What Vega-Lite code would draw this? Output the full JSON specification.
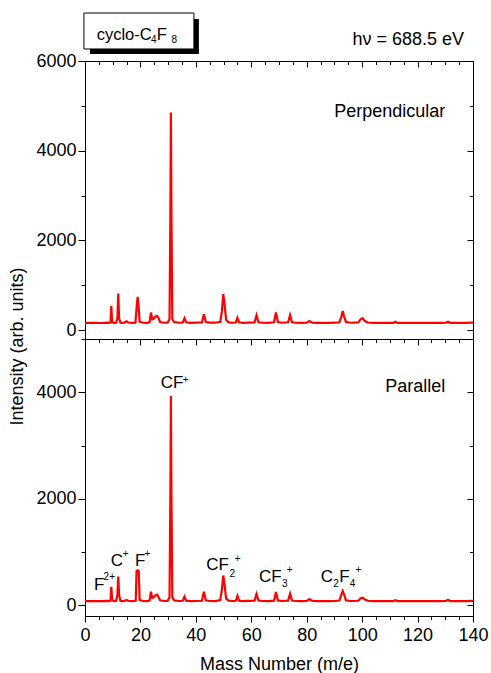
{
  "$schema": "https://vega.github.io/schema/vega-lite/v6.json",
  "padding": {"left": 7, "top": 12, "right": 17, "bottom": 2},
  "datasets": {
    "perp": [
      {"m":0,"v":160},{"m":2,"v":158},{"m":4,"v":162},{"m":6,"v":157},{"m":8,"v":163},{"m":8.9,"v":158},{"m":9.2,"v":175},{"m":9.5,"v":540},{"m":9.8,"v":175},{"m":10.4,"v":160},{"m":11.2,"v":162},{"m":11.7,"v":260},{"m":12.0,"v":815},{"m":12.3,"v":260},{"m":12.8,"v":163},{"m":14,"v":160},{"m":15,"v":195},{"m":15.6,"v":168},{"m":17,"v":160},{"m":18.2,"v":165},{"m":18.7,"v":560},{"m":19.0,"v":740},{"m":19.3,"v":560},{"m":19.7,"v":185},{"m":21,"v":162},{"m":22.5,"v":160},{"m":23.3,"v":170},{"m":23.8,"v":390},{"m":24.3,"v":240},{"m":24.8,"v":250},{"m":25.4,"v":300},{"m":26.0,"v":315},{"m":26.5,"v":270},{"m":27.1,"v":180},{"m":28.5,"v":162},{"m":29.8,"v":165},{"m":30.5,"v":240},{"m":30.8,"v":2500},{"m":31.0,"v":4850},{"m":31.2,"v":2500},{"m":31.5,"v":240},{"m":32.2,"v":175},{"m":34,"v":162},{"m":35.3,"v":168},{"m":35.9,"v":265},{"m":36.5,"v":172},{"m":38,"v":160},{"m":40,"v":163},{"m":42.2,"v":168},{"m":42.9,"v":350},{"m":43.6,"v":180},{"m":45,"v":165},{"m":47,"v":163},{"m":48.8,"v":185},{"m":49.4,"v":420},{"m":49.9,"v":800},{"m":50.4,"v":560},{"m":50.9,"v":230},{"m":51.8,"v":172},{"m":53.5,"v":163},{"m":54.4,"v":168},{"m":55.0,"v":275},{"m":55.6,"v":172},{"m":57,"v":160},{"m":59,"v":164},{"m":61.2,"v":170},{"m":61.9,"v":330},{"m":62.6,"v":172},{"m":64,"v":162},{"m":66,"v":160},{"m":68.2,"v":172},{"m":68.9,"v":390},{"m":69.6,"v":178},{"m":71,"v":163},{"m":73.3,"v":172},{"m":74.0,"v":330},{"m":74.7,"v":172},{"m":76,"v":162},{"m":78,"v":160},{"m":80,"v":165},{"m":81,"v":200},{"m":82,"v":166},{"m":84,"v":160},{"m":86,"v":162},{"m":88,"v":158},{"m":90,"v":163},{"m":91.8,"v":172},{"m":92.5,"v":300},{"m":93.0,"v":425},{"m":93.5,"v":300},{"m":94.2,"v":175},{"m":96,"v":163},{"m":98.6,"v":170},{"m":99.5,"v":245},{"m":100.2,"v":262},{"m":101.0,"v":200},{"m":102,"v":168},{"m":104,"v":160},{"m":106,"v":162},{"m":108,"v":158},{"m":110,"v":162},{"m":111.2,"v":160},{"m":112,"v":186},{"m":112.8,"v":160},{"m":115,"v":158},{"m":118,"v":162},{"m":120,"v":160},{"m":122,"v":158},{"m":125,"v":162},{"m":128,"v":160},{"m":130.2,"v":162},{"m":131,"v":185},{"m":131.8,"v":160},{"m":134,"v":162},{"m":137,"v":160},{"m":140,"v":163}
    ],
    "para": [
      {"m":0,"v":80},{"m":2,"v":78},{"m":4,"v":82},{"m":6,"v":78},{"m":8,"v":83},{"m":8.9,"v":80},{"m":9.2,"v":95},{"m":9.5,"v":350},{"m":9.8,"v":95},{"m":10.4,"v":80},{"m":11.2,"v":82},{"m":11.7,"v":200},{"m":12.0,"v":540},{"m":12.3,"v":200},{"m":12.8,"v":84},{"m":14,"v":80},{"m":15,"v":100},{"m":15.6,"v":86},{"m":17,"v":80},{"m":18.3,"v":85},{"m":18.6,"v":640},{"m":19.0,"v":660},{"m":19.4,"v":640},{"m":19.7,"v":100},{"m":21,"v":82},{"m":22.5,"v":80},{"m":23.3,"v":88},{"m":23.8,"v":257},{"m":24.3,"v":140},{"m":24.8,"v":150},{"m":25.4,"v":185},{"m":26.0,"v":200},{"m":26.5,"v":160},{"m":27.1,"v":95},{"m":28.5,"v":82},{"m":29.8,"v":85},{"m":30.5,"v":150},{"m":30.8,"v":2000},{"m":31.0,"v":3930},{"m":31.2,"v":2000},{"m":31.5,"v":150},{"m":32.2,"v":92},{"m":34,"v":82},{"m":35.3,"v":86},{"m":35.9,"v":163},{"m":36.5,"v":88},{"m":38,"v":80},{"m":40,"v":82},{"m":42.2,"v":86},{"m":42.9,"v":257},{"m":43.6,"v":95},{"m":45,"v":82},{"m":47,"v":80},{"m":48.8,"v":100},{"m":49.4,"v":300},{"m":49.9,"v":560},{"m":50.4,"v":380},{"m":50.9,"v":130},{"m":51.8,"v":88},{"m":53.5,"v":82},{"m":54.4,"v":86},{"m":55.0,"v":181},{"m":55.6,"v":88},{"m":57,"v":80},{"m":59,"v":83},{"m":61.2,"v":88},{"m":61.9,"v":212},{"m":62.6,"v":90},{"m":64,"v":82},{"m":66,"v":80},{"m":68.2,"v":88},{"m":68.9,"v":250},{"m":69.6,"v":92},{"m":71,"v":82},{"m":73.3,"v":88},{"m":74.0,"v":219},{"m":74.7,"v":90},{"m":76,"v":82},{"m":78,"v":80},{"m":80,"v":84},{"m":81,"v":119},{"m":82,"v":84},{"m":84,"v":80},{"m":86,"v":82},{"m":88,"v":78},{"m":90,"v":82},{"m":91.8,"v":90},{"m":92.5,"v":200},{"m":93.0,"v":269},{"m":93.5,"v":200},{"m":94.2,"v":92},{"m":96,"v":82},{"m":98.6,"v":86},{"m":99.5,"v":135},{"m":100.2,"v":144},{"m":101.0,"v":110},{"m":102,"v":86},{"m":104,"v":80},{"m":106,"v":82},{"m":108,"v":78},{"m":110,"v":82},{"m":111.2,"v":80},{"m":112,"v":95},{"m":112.8,"v":80},{"m":115,"v":78},{"m":118,"v":82},{"m":120,"v":80},{"m":122,"v":78},{"m":125,"v":82},{"m":128,"v":80},{"m":130.2,"v":82},{"m":131,"v":106},{"m":131.8,"v":80},{"m":134,"v":82},{"m":137,"v":80},{"m":140,"v":83}
    ],
    "ionParts": [
      {"m":3.25,"v":288,"t":"F","k":"b"},{"m":6.7,"v":470,"t":"2+","k":"s"},
      {"m":9.27,"v":744,"t":"C","k":"b"},{"m":13.6,"v":908,"t":"+","k":"s"},
      {"m":18.04,"v":744,"t":"F","k":"b"},{"m":21.5,"v":908,"t":"+","k":"s"},
      {"m":27.32,"v":4086,"t":"CF","k":"b"},{"m":35.3,"v":4174,"t":"+","k":"s"},
      {"m":43.78,"v":664,"t":"CF","k":"b"},{"m":52.1,"v":538,"t":"2","k":"s"},{"m":54.0,"v":823,"t":"+","k":"s"},
      {"m":62.79,"v":444,"t":"CF","k":"b"},{"m":71.1,"v":339,"t":"3","k":"s"},{"m":72.8,"v":607,"t":"+","k":"s"},
      {"m":85.06,"v":444,"t":"C","k":"b"},{"m":89.6,"v":339,"t":"2","k":"s"},{"m":91.7,"v":444,"t":"F","k":"b"},{"m":95.5,"v":339,"t":"4","k":"s"},{"m":97.6,"v":607,"t":"+","k":"s"}
    ],
    "topText": [
      {"m":130,"v":4754,"t":"Perpendicular"},{"m":136.8,"v":6357,"t":"hν = 688.5 eV"}
    ],
    "botText": [
      {"m":130,"v":4000,"t":"Parallel"}
    ],
    "shadow": [{"x1":1.8,"x2":41.1,"y1":6156,"y2":6937}],
    "box": [{"x1":-0.4,"x2":39.3,"y1":6268,"y2":7070}],
    "boxParts": [
      {"m":4.2,"v":6468,"t":"cyclo-C","k":"b"},{"m":23.8,"v":6395,"t":"4","k":"s"},{"m":25.9,"v":6468,"t":"F","k":"b"},{"m":31.2,"v":6395,"t":"8","k":"s"}
    ]
  },
  "vconcat": [
    {
      "width": 388,
      "height": 278,
      "resolve": {"axis": {"x": "independent", "y": "independent"}},
      "layer": [
        {
          "data": {"name": "perp"},
          "mark": {"type": "line", "color": "#ff0000", "strokeWidth": 2.2},
          "encoding": {
            "x": {"field": "m", "type": "quantitative", "scale": {"domain": [0, 140], "nice": false}, "axis": null},
            "y": {"field": "v", "type": "quantitative", "scale": {"domain": [-200, 6000], "nice": false, "zero": false},
              "axis": {"orient": "left", "values": [0,1000,2000,3000,4000,5000,6000],
                "labelExpr": "datum.value % 2000 === 0 ? datum.label : ''",
                "tickSize": {"condition": {"test": "datum.value % 2000 === 0", "value": 7}, "value": 4},
                "labelPadding": 2, "format": "d",
                "title": "Intensity (arb. units)", "titleX": -68, "titleY": 285, "titleAngle": -90,
                "titleAlign": "center", "titleBaseline": "middle", "titleAnchor": null}}
          }
        },
        {
          "data": {"name": "topText"},
          "mark": {"type": "text", "align": "right", "baseline": "alphabetic"},
          "encoding": {
            "x": {"field": "m", "type": "quantitative", "scale": {"domain": [0, 140], "nice": false},
              "axis": {"orient": "top", "values": [0,5,10,15,20,25,30,35,40,45,50,55,60,65,70,75,80,85,90,95,100,105,110,115,120,125,130,135,140],
                "labels": false, "title": null, "minExtent": 0,
                "tickSize": {"condition": {"test": "datum.value % 20 === 0", "value": -6}, "value": -3.5}}},
            "y": {"field": "v", "type": "quantitative", "scale": {"domain": [-200, 6000], "nice": false, "zero": false},
              "axis": {"orient": "right", "values": [0,1000,2000,3000,4000,5000,6000],
                "labels": false, "title": null, "minExtent": 0,
                "tickSize": {"condition": {"test": "datum.value % 2000 === 0", "value": -6}, "value": -3.5}}},
            "text": {"field": "t"}
          }
        },
        {
          "data": {"name": "shadow"},
          "mark": {"type": "rect", "color": "black"},
          "encoding": {
            "x": {"field": "x1", "type": "quantitative", "scale": {"domain": [0, 140], "nice": false}, "axis": null},
            "x2": {"field": "x2"},
            "y": {"field": "y1", "type": "quantitative", "scale": {"domain": [-200, 6000], "nice": false, "zero": false}, "axis": null},
            "y2": {"field": "y2"}
          }
        },
        {
          "data": {"name": "box"},
          "mark": {"type": "rect", "fill": "white", "stroke": "black", "strokeWidth": 1},
          "encoding": {
            "x": {"field": "x1", "type": "quantitative", "scale": {"domain": [0, 140], "nice": false}, "axis": null},
            "x2": {"field": "x2"},
            "y": {"field": "y1", "type": "quantitative", "scale": {"domain": [-200, 6000], "nice": false, "zero": false}, "axis": null},
            "y2": {"field": "y2"}
          }
        },
        {
          "data": {"name": "boxParts"},
          "transform": [{"filter": "datum.k === 'b'"}],
          "mark": {"type": "text", "align": "left", "baseline": "alphabetic", "fontSize": 16.5},
          "encoding": {
            "x": {"field": "m", "type": "quantitative", "scale": {"domain": [0, 140], "nice": false}, "axis": null},
            "y": {"field": "v", "type": "quantitative", "scale": {"domain": [-200, 6000], "nice": false, "zero": false}, "axis": null},
            "text": {"field": "t"}
          }
        },
        {
          "data": {"name": "boxParts"},
          "transform": [{"filter": "datum.k === 's'"}],
          "mark": {"type": "text", "align": "left", "baseline": "alphabetic", "fontSize": 10},
          "encoding": {
            "x": {"field": "m", "type": "quantitative", "scale": {"domain": [0, 140], "nice": false}, "axis": null},
            "y": {"field": "v", "type": "quantitative", "scale": {"domain": [-200, 6000], "nice": false, "zero": false}, "axis": null},
            "text": {"field": "t"}
          }
        }
      ]
    },
    {
      "width": 388,
      "height": 277,
      "resolve": {"axis": {"x": "independent", "y": "independent"}},
      "layer": [
        {
          "data": {"name": "para"},
          "mark": {"type": "line", "color": "#ff0000", "strokeWidth": 2.2},
          "encoding": {
            "x": {"field": "m", "type": "quantitative", "scale": {"domain": [0, 140], "nice": false},
              "axis": {"orient": "bottom", "values": [0,5,10,15,20,25,30,35,40,45,50,55,60,65,70,75,80,85,90,95,100,105,110,115,120,125,130,135,140],
                "labelExpr": "datum.value % 20 === 0 ? datum.label : ''",
                "tickSize": {"condition": {"test": "datum.value % 20 === 0", "value": 6}, "value": 3.5},
                "labelPadding": 4, "labelOverlap": false, "labelFlush": false, "format": "d",
                "title": "Mass Number (m/e)", "titlePadding": 11}},
            "y": {"field": "v", "type": "quantitative", "scale": {"domain": [-200, 5000], "nice": false, "zero": false},
              "axis": {"orient": "left", "values": [0,1000,2000,3000,4000,5000],
                "labelExpr": "datum.value % 2000 === 0 ? datum.label : ''",
                "tickSize": {"condition": {"test": "datum.value % 2000 === 0", "value": 7}, "value": 4},
                "labelPadding": 2, "format": "d", "title": null}}
          }
        },
        {
          "data": {"name": "ionParts"},
          "transform": [{"filter": "datum.k === 'b'"}],
          "mark": {"type": "text", "align": "left", "baseline": "alphabetic", "fontSize": 17},
          "encoding": {
            "x": {"field": "m", "type": "quantitative", "scale": {"domain": [0, 140], "nice": false},
              "axis": {"orient": "top", "values": [0,5,10,15,20,25,30,35,40,45,50,55,60,65,70,75,80,85,90,95,100,105,110,115,120,125,130,135,140],
                "labels": false, "title": null, "minExtent": 0,
                "tickSize": {"condition": {"test": "datum.value % 20 === 0", "value": -6}, "value": -3.5}}},
            "y": {"field": "v", "type": "quantitative", "scale": {"domain": [-200, 5000], "nice": false, "zero": false},
              "axis": {"orient": "right", "values": [0,1000,2000,3000,4000,5000],
                "labels": false, "title": null, "minExtent": 0,
                "tickSize": {"condition": {"test": "datum.value % 2000 === 0", "value": -6}, "value": -3.5}}},
            "text": {"field": "t"}
          }
        },
        {
          "data": {"name": "ionParts"},
          "transform": [{"filter": "datum.k === 's'"}],
          "mark": {"type": "text", "align": "left", "baseline": "alphabetic", "fontSize": 10},
          "encoding": {
            "x": {"field": "m", "type": "quantitative", "scale": {"domain": [0, 140], "nice": false}, "axis": null},
            "y": {"field": "v", "type": "quantitative", "scale": {"domain": [-200, 5000], "nice": false, "zero": false}, "axis": null},
            "text": {"field": "t"}
          }
        },
        {
          "data": {"name": "botText"},
          "mark": {"type": "text", "align": "right", "baseline": "alphabetic"},
          "encoding": {
            "x": {"field": "m", "type": "quantitative", "scale": {"domain": [0, 140], "nice": false}, "axis": null},
            "y": {"field": "v", "type": "quantitative", "scale": {"domain": [-200, 5000], "nice": false, "zero": false}, "axis": null},
            "text": {"field": "t"}
          }
        }
      ]
    }
  ],
  "spacing": 0,
  "bounds": "flush",
  "config": {
    "view": {"stroke": "black", "strokeWidth": 1},
    "axis": {"domain": false, "grid": false, "tickColor": "black", "tickWidth": 1,
      "labelColor": "black", "titleColor": "black", "labelFont": "Liberation Sans", "titleFont": "Liberation Sans",
      "labelFontSize": 18, "titleFontSize": 18, "titleFontWeight": "normal"},
    "text": {"font": "Liberation Sans", "fontSize": 18, "color": "black"}
  }
}
